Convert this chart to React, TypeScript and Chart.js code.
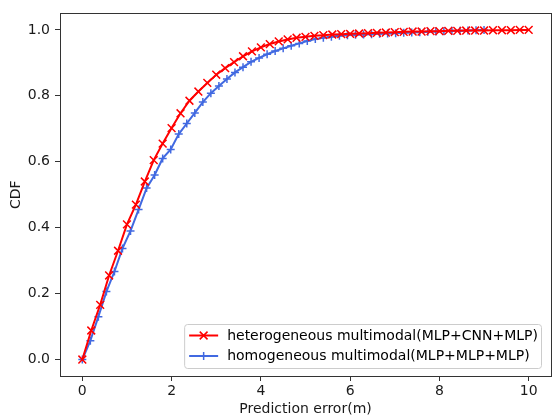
import React, { useEffect, useRef } from "react";
import { Chart, registerables } from "chart.js";

Chart.register(...registerables);

const heteroLabel = "heterogeneous multimodal(MLP+CNN+MLP)";
const homoLabel = "homogeneous multimodal(MLP+MLP+MLP)";

// x positions: hetero 0..10 step 0.2 ; homo 0..9 step 0.18
const heteroX = [
  0, 0.2, 0.4, 0.6, 0.8, 1.0, 1.2, 1.4, 1.6, 1.8, 2.0, 2.2, 2.4, 2.6, 2.8, 3.0, 3.2, 3.4, 3.6, 3.8,
  4.0, 4.2, 4.4, 4.6, 4.8, 5.0, 5.2, 5.4, 5.6, 5.8, 6.0, 6.2, 6.4, 6.6, 6.8, 7.0, 7.2, 7.4, 7.6, 7.8,
  8.0, 8.2, 8.4, 8.6, 8.8, 9.0, 9.2, 9.4, 9.6, 9.8, 10.0,
];
const heteroY = [
  0, 0.088, 0.166, 0.255, 0.33, 0.41, 0.47, 0.54, 0.605, 0.655, 0.702, 0.747, 0.785, 0.813, 0.839,
  0.864, 0.884, 0.902, 0.92, 0.935, 0.947, 0.957, 0.965, 0.971, 0.976, 0.979, 0.982, 0.984, 0.986,
  0.987, 0.988, 0.989, 0.99, 0.991, 0.992, 0.993, 0.994, 0.995, 0.995, 0.996, 0.996, 0.997, 0.997,
  0.998, 0.998, 0.998, 0.999, 0.999, 0.999, 1.0, 1.0,
];
const homoX = [
  0, 0.18, 0.36, 0.54, 0.72, 0.9, 1.08, 1.26, 1.44, 1.62, 1.8, 1.98, 2.16, 2.34, 2.52, 2.7, 2.88,
  3.06, 3.24, 3.42, 3.6, 3.78, 3.96, 4.14, 4.32, 4.5, 4.68, 4.86, 5.04, 5.22, 5.4, 5.58, 5.76, 5.94,
  6.12, 6.3, 6.48, 6.66, 6.84, 7.02, 7.2, 7.38, 7.56, 7.74, 7.92, 8.1, 8.28, 8.46, 8.64, 8.82, 9.0,
];
const homoY = [
  0, 0.057, 0.13, 0.206, 0.267, 0.337, 0.39, 0.455, 0.52, 0.56, 0.61, 0.637, 0.684, 0.716, 0.748,
  0.781, 0.808, 0.83, 0.851, 0.871, 0.887, 0.903, 0.915, 0.926, 0.936, 0.944, 0.952, 0.959, 0.966,
  0.972, 0.976, 0.979, 0.982, 0.984, 0.985, 0.986, 0.987, 0.988, 0.989, 0.99, 0.991, 0.992, 0.993,
  0.994, 0.995, 0.996, 0.997, 0.997, 0.998, 0.999, 1.0,
];

const xTicks = [0, 2, 4, 6, 8, 10];
const yTicks = [0, 0.2, 0.4, 0.6, 0.8, 1.0];

const RED = "#ff0000";
const BLUE = "#4169e1";
const FONT = "'DejaVu Sans', sans-serif";
const TEXT = "#1a1a1a";
const FS = 14;

function drawMarker(ctx: CanvasRenderingContext2D, style: string, x: number, y: number, r: number) {
  ctx.beginPath();
  if (style === "crossRot") {
    const d = r * Math.SQRT1_2;
    ctx.moveTo(x - d, y - d);
    ctx.lineTo(x + d, y + d);
    ctx.moveTo(x + d, y - d);
    ctx.lineTo(x - d, y + d);
  } else {
    ctx.moveTo(x - r, y);
    ctx.lineTo(x + r, y);
    ctx.moveTo(x, y - r);
    ctx.lineTo(x, y + r);
  }
  ctx.stroke();
}

const framePlugin = {
  id: "frame",
  afterDraw(chart: any) {
    const { ctx, chartArea } = chart;
    ctx.save();
    ctx.strokeStyle = "#333333";
    ctx.lineWidth = 1;
    ctx.strokeRect(
      Math.round(chartArea.left) + 0.5,
      Math.round(chartArea.top) + 0.5,
      Math.round(chartArea.right - chartArea.left),
      Math.round(chartArea.bottom - chartArea.top)
    );
    ctx.restore();
  },
};

const legendPlugin = {
  id: "innerLegend",
  afterDraw(chart: any) {
    const { ctx, chartArea } = chart;
    const ds = chart.data.datasets;
    ctx.save();
    ctx.font = `${FS}px ${FONT}`;
    let tw = 0;
    ds.forEach((d: any) => {
      tw = Math.max(tw, ctx.measureText(d.label).width);
    });
    const right = chartArea.right - 10;
    const bottom = chartArea.bottom - 8;
    const height = 44;
    const width = 44 + tw + 2;
    const left = right - width;
    const top = bottom - height;
    ctx.beginPath();
    if ((ctx as any).roundRect) {
      (ctx as any).roundRect(left + 0.5, top + 0.5, width, height, 3);
    } else {
      ctx.rect(left + 0.5, top + 0.5, width, height);
    }
    ctx.fillStyle = "rgba(255,255,255,0.8)";
    ctx.fill();
    ctx.strokeStyle = "#cccccc";
    ctx.lineWidth = 1;
    ctx.stroke();
    ds.forEach((d: any, i: number) => {
      const y = top + 11.5 + i * 20.5;
      ctx.strokeStyle = d.borderColor;
      ctx.lineWidth = 2;
      ctx.beginPath();
      ctx.moveTo(left + 5, y);
      ctx.lineTo(left + 34, y);
      ctx.stroke();
      ctx.lineWidth = 1.5;
      drawMarker(ctx, d.pointStyle, left + 19.5, y, d.pointRadius);
      ctx.fillStyle = "#000000";
      ctx.textBaseline = "middle";
      ctx.textAlign = "left";
      ctx.fillText(d.label, left + 43, y + 0.5);
    });
    ctx.restore();
  },
};

export default function App() {
  const ref = useRef<HTMLCanvasElement | null>(null);
  useEffect(() => {
    if (!ref.current) return;
    const chart = new Chart(ref.current, {
      type: "line",
      data: {
        datasets: [
          {
            label: heteroLabel,
            data: heteroX.map((x, i) => ({ x, y: heteroY[i] })),
            borderColor: RED,
            backgroundColor: RED,
            borderWidth: 2,
            pointStyle: "crossRot",
            pointRadius: 5.5,
            pointBorderWidth: 1.5,
            pointBorderColor: RED,
            pointHoverRadius: 5.5,
            tension: 0,
            fill: false,
          },
          {
            label: homoLabel,
            data: homoX.map((x, i) => ({ x, y: homoY[i] })),
            borderColor: BLUE,
            backgroundColor: BLUE,
            borderWidth: 2,
            pointStyle: "cross",
            pointRadius: 4,
            pointBorderWidth: 1.5,
            pointBorderColor: BLUE,
            pointHoverRadius: 4,
            tension: 0,
            fill: false,
          },
        ],
      },
      options: {
        animation: false,
        responsive: false,
        maintainAspectRatio: false,
        layout: { padding: { top: 11, right: 5, left: 0, bottom: 0 } },
        plugins: {
          legend: { display: false },
          tooltip: { enabled: false },
        },
        scales: {
          x: {
            type: "linear",
            min: -0.5,
            max: 10.5,
            afterBuildTicks: (axis: any) => {
              axis.ticks = xTicks.map((v) => ({ value: v }));
            },
            afterFit: (scale: any) => {
              scale.height = 43;
            },
            grid: {
              display: true,
              drawOnChartArea: false,
              drawTicks: true,
              tickLength: 5,
              color: "#333333",
            },
            border: { display: false },
            ticks: {
              color: TEXT,
              font: { family: FONT, size: FS },
              padding: 2,
              maxRotation: 0,
              callback: (v: any) => String(v),
            },
            title: {
              display: true,
              text: "Prediction error(m)",
              color: TEXT,
              font: { family: FONT, size: FS },
              padding: { top: 0, bottom: 1 },
            },
          },
          y: {
            type: "linear",
            min: -0.05,
            max: 1.05,
            afterBuildTicks: (axis: any) => {
              axis.ticks = yTicks.map((v) => ({ value: v }));
            },
            afterFit: (scale: any) => {
              scale.width = 60;
            },
            grid: {
              display: true,
              drawOnChartArea: false,
              drawTicks: true,
              tickLength: 5,
              color: "#333333",
            },
            border: { display: false },
            ticks: {
              color: TEXT,
              font: { family: FONT, size: FS },
              padding: 5,
              callback: (v: any) => Number(v).toFixed(1),
            },
            title: {
              display: true,
              text: "CDF",
              color: TEXT,
              font: { family: FONT, size: FS },
              padding: { top: 8, bottom: 0 },
            },
          },
        },
      },
      plugins: [framePlugin, legendPlugin],
    });
    return () => chart.destroy();
  }, []);
  return (
    <div style={{ position: "absolute", left: 0, top: 0, width: 558, height: 419, background: "#fff" }}>
      <canvas ref={ref} width={558} height={419} style={{ width: 558, height: 419, display: "block" }} />
    </div>
  );
}
